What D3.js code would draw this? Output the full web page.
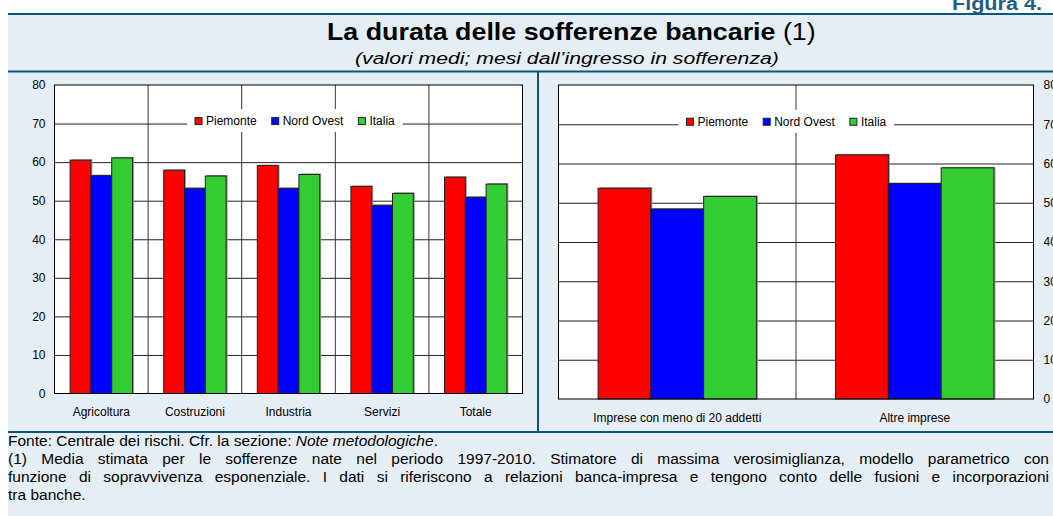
<!DOCTYPE html>
<html>
<meta charset="utf-8" />
<style>
  body { margin: 0; background: #fff; }
  text { font-family: "Liberation Sans", Arial, sans-serif; }
  .tick text { font-size: 12px; fill: #000; }
</style>
<body>
<script src="https://d3js.org/d3.v7.min.js"></script>
<script>
  let width = 1053,
    height = 516;

  // data
  let series = ["Piemonte", "Nord Ovest", "Italia"];
  let colors = ["#ff0000", "#0000ff", "#33cc33"];

  let sectors = ["Agricoltura", "Costruzioni", "Industria", "Servizi", "Totale"];
  let sectorPiemonte = [60.5, 57.9, 59.1, 53.7, 56.1];
  let sectorNordOvest = [56.5, 53.2, 53.2, 48.8, 50.9];
  let sectorItalia = [61.1, 56.4, 56.8, 51.9, 54.3];

  let sizes = ["Imprese con meno di 20 addetti", "Altre imprese"];
  let sizePiemonte = [53.7, 62.2];
  let sizeNordOvest = [48.4, 54.9];
  let sizeItalia = [51.6, 58.9];

  let yTicks = [0, 10, 20, 30, 40, 50, 60, 70, 80];

  let blue = "#0b5580";
  let paleBlue = "#e6eef5";

  let svg = d3
    .select("body")
    .append("svg")
    .attr("width", width)
    .attr("height", height);

  // frame
  svg.append("rect").attr("x", 8).attr("y", 14).attr("width", width - 8).attr("height", height - 14).attr("fill", paleBlue);
  svg.append("rect").attr("x", 8).attr("y", 13).attr("width", width - 8).attr("height", 2).attr("fill", blue);
  svg.append("rect").attr("x", 8).attr("y", 70.5).attr("width", width - 8).attr("height", 2).attr("fill", blue);
  svg.append("rect").attr("x", 8).attr("y", 431).attr("width", width - 8).attr("height", 2).attr("fill", blue);
  svg.append("rect").attr("x", 537).attr("y", 72).attr("width", 2).attr("height", 359).attr("fill", blue);

  // stretch a text horizontally so that it spans [x0, x1]
  function fitText(t, x0, x1) {
    let w = t.node().getComputedTextLength();
    let k = (x1 - x0) / w;
    t.attr("x", 0).attr("text-anchor", "start")
      .attr("transform", "translate(" + x0 + "," + t.attr("y") + ") scale(" + k + ",1)")
      .attr("y", 0);
  }

  let fig = svg.append("text")
    .attr("y", 9.5)
    .attr("font-size", 19).attr("font-weight", "bold").attr("fill", "#1d5d88")
    .text("Figura 4.");
  fitText(fig, 952, 1042);

  let title = svg.append("text")
    .attr("y", 40).attr("font-size", 23);
  title.append("tspan").attr("font-weight", "bold").text("La durata delle sofferenze bancarie");
  title.append("tspan").text(" (1)");
  fitText(title, 327, 816);

  let sub = svg.append("text")
    .attr("y", 64).attr("font-size", 17).attr("font-style", "italic")
    .text("(valori medi; mesi dall\u2019ingresso in sofferenza)");
  fitText(sub, 355, 779);

  function drawPanel(cats, values, box, axisSide, legendX) {
    let g = svg.append("g");
    let x = d3.scaleBand().domain(cats).range([box.x0, box.x1]);
    let bw = x.bandwidth();
    let x1 = d3.scaleBand().domain(series).range([bw / 6, bw * 5 / 6]);
    let y = d3.scaleLinear().domain([0, 80]).range([box.y1, box.y0]);

    g.append("rect")
      .attr("x", box.x0).attr("y", box.y0)
      .attr("width", box.x1 - box.x0).attr("height", box.y1 - box.y0)
      .attr("fill", "#fff");

    // horizontal grid
    g.append("g")
      .attr("transform", "translate(" + box.x0 + ",0)")
      .call(d3.axisLeft(y).tickValues(yTicks.slice(1, -1)).tickSize(-(box.x1 - box.x0)).tickFormat(""))
      .call((s) => s.select(".domain").remove())
      .selectAll("line").attr("stroke", "#222");

    // vertical dividers
    g.selectAll(".vdiv")
      .data(cats.slice(1))
      .join("line")
      .attr("x1", (d) => x(d)).attr("x2", (d) => x(d))
      .attr("y1", box.y0).attr("y2", box.y1)
      .attr("stroke", "#333");

    // bars, with a thin grey shadow on the right
    let rows = cats.map((c, i) => series.map((s, j) => ({ cat: c, s: s, j: j, v: values[j][i] })));
    let grp = g.selectAll(".grp")
      .data(rows)
      .join("g");
    grp.selectAll(".shadow")
      .data((d) => d)
      .join("rect")
      .attr("x", (d) => x(d.cat) + x1(d.s) + 1.5)
      .attr("y", (d) => y(d.v) - 1)
      .attr("width", x1.bandwidth())
      .attr("height", (d) => y(0) - y(d.v) + 1)
      .attr("fill", "#999");
    grp.selectAll(".bar")
      .data((d) => d)
      .join("rect")
      .attr("x", (d) => x(d.cat) + x1(d.s))
      .attr("y", (d) => y(d.v))
      .attr("width", x1.bandwidth())
      .attr("height", (d) => y(0) - y(d.v))
      .attr("fill", (d) => colors[d.j])
      .attr("stroke", "#222")
      .attr("stroke-width", 1);

    // legend
    let lg = g.append("g");
    let ly = y(70) - 2.5;
    let cx = legendX;
    series.forEach((s, j) => {
      lg.append("rect")
        .attr("x", cx).attr("y", ly - 3.5).attr("width", 7).attr("height", 7)
        .attr("fill", colors[j]).attr("stroke", "#222");
      let t = lg.append("text")
        .attr("x", cx + 11).attr("y", ly + 4.3)
        .attr("font-size", 12).text(s);
      cx += 11 + t.node().getComputedTextLength() + 15;
    });
    lg.insert("rect", ":first-child")
      .attr("x", legendX - 8).attr("y", ly - 12)
      .attr("width", cx - 15 - legendX + 16).attr("height", 23)
      .attr("fill", "#fff");

    // border
    g.append("rect")
      .attr("x", box.x0).attr("y", box.y0)
      .attr("width", box.x1 - box.x0).attr("height", box.y1 - box.y0)
      .attr("fill", "none").attr("stroke", "#000");

    // y axis labels
    let ax = axisSide == "left"
      ? d3.axisLeft(y).tickValues(yTicks).tickSize(0).tickPadding(9)
      : d3.axisRight(y).tickValues(yTicks).tickSize(0).tickPadding(10);
    g.append("g")
      .attr("transform", "translate(" + (axisSide == "left" ? box.x0 : box.x1) + ",0)")
      .call(ax)
      .call((s) => s.select(".domain").remove())
      .selectAll("text").attr("font-family", null);

    // category labels
    g.append("g")
      .attr("transform", "translate(0," + box.y1 + ")")
      .call(d3.axisBottom(x).tickSize(0).tickPadding(14))
      .call((s) => s.select(".domain").remove())
      .selectAll("text").attr("font-family", null);
  }

  drawPanel(sectors, [sectorPiemonte, sectorNordOvest, sectorItalia],
    { x0: 54.5, x1: 522.5, y0: 85, y1: 393.5 }, "left", 195);
  drawPanel(sizes, [sizePiemonte, sizeNordOvest, sizeItalia],
    { x0: 558.5, x1: 1033.5, y0: 85, y1: 399 }, "right", 686.5);

  // notes
  let fonte = svg.append("text").attr("x", 8).attr("y", 446).attr("font-size", 15.5);
  fonte.append("tspan").text("Fonte: Centrale dei rischi. Cfr. la sezione: ");
  fonte.append("tspan").attr("font-style", "italic").text("Note metodologiche");
  fonte.append("tspan").text(".");

  let noteLines = [
    "(1) Media stimata per le sofferenze nate nel periodo 1997-2010. Stimatore di massima verosimiglianza, modello parametrico con",
    "funzione di sopravvivenza esponenziale. I dati si riferiscono a relazioni banca-impresa e tengono conto delle fusioni e incorporazioni",
    "tra banche.",
  ];
  noteLines.forEach((line, i) => {
    let t = svg.append("text")
      .attr("x", 8).attr("y", 464 + i * 18)
      .attr("font-size", 15.5).text(line);
    if (i < noteLines.length - 1) {
      let w = t.node().getComputedTextLength();
      let gaps = line.split(" ").length - 1;
      t.attr("word-spacing", (1049 - 8 - w) / gaps);
    }
  });
</script>
</body>
</html>
